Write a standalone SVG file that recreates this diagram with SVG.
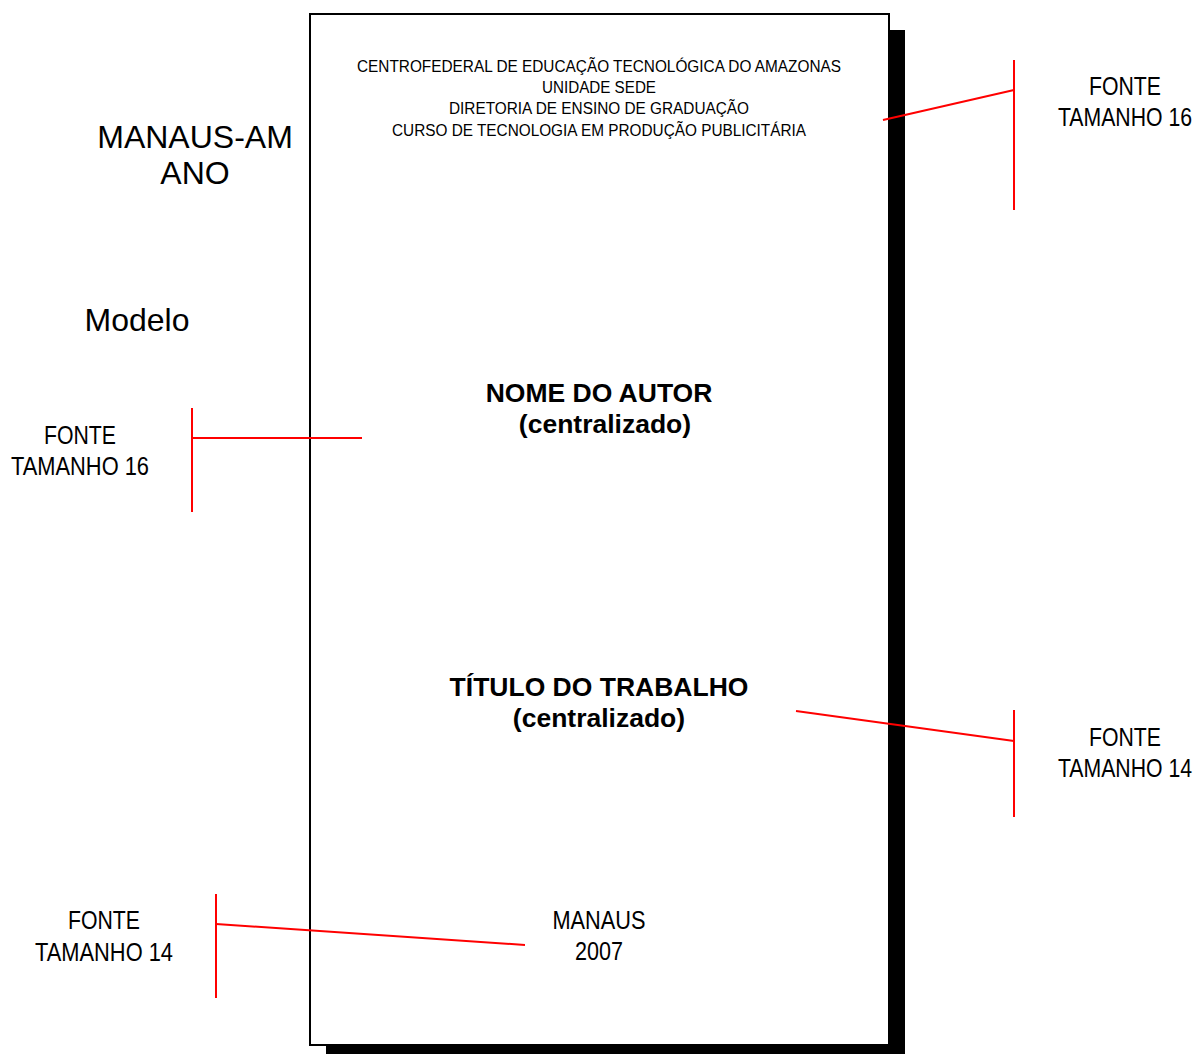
<svg xmlns="http://www.w3.org/2000/svg" width="1199" height="1054" viewBox="0 0 1199 1054">
<style>
.n{font-family:"Liberation Sans Narrow","Liberation Sans",Arial,sans-serif;fill:#000;text-anchor:middle}
.r{font-family:"Liberation Sans",Arial,sans-serif;fill:#000;text-anchor:middle;font-size:32px}
.b{font-family:"Liberation Sans",Arial,sans-serif;fill:#000;text-anchor:middle;font-size:26.5px;font-weight:bold}
.h{font-size:16px}
.f{font-size:25px}
.red{stroke:#ff0000;stroke-width:2;fill:none}
</style>
<rect width="1199" height="1054" fill="#fff"/>
<g id="page">
<rect x="326" y="30" width="579" height="1030" fill="#000"/>
<rect x="310" y="14" width="579" height="1031" fill="#fff" stroke="#000" stroke-width="2"/>
</g>
<g id="header">
<text class="n h" x="599" y="72" textLength="484" lengthAdjust="spacingAndGlyphs">CENTROFEDERAL DE EDUCAÇÃO TECNOLÓGICA DO AMAZONAS</text>
<text class="n h" x="599" y="93" textLength="114" lengthAdjust="spacingAndGlyphs">UNIDADE SEDE</text>
<text class="n h" x="599" y="114" textLength="300" lengthAdjust="spacingAndGlyphs">DIRETORIA DE ENSINO DE GRADUAÇÃO</text>
<text class="n h" x="599" y="136" textLength="414" lengthAdjust="spacingAndGlyphs">CURSO DE TECNOLOGIA EM PRODUÇÃO PUBLICITÁRIA</text>
</g>
<g id="city-year">
<text class="r" x="195" y="148">MANAUS-AM</text>
<text class="r" x="195" y="184">ANO</text>
</g>
<g id="modelo"><text class="r" x="137" y="331">Modelo</text></g>
<g id="author">
<text class="b" x="599" y="402">NOME DO AUTOR</text>
<text class="b" x="605" y="433">(centralizado)</text>
</g>
<g id="title">
<text class="b" x="599" y="696">TÍTULO DO TRABALHO</text>
<text class="b" x="599" y="727">(centralizado)</text>
</g>
<g id="place">
<text class="n f" x="599" y="929" textLength="93" lengthAdjust="spacingAndGlyphs">MANAUS</text>
<text class="n f" x="599" y="960" textLength="48" lengthAdjust="spacingAndGlyphs">2007</text>
</g>
<g id="label-top-right">
<text class="n f" x="1125" y="95" textLength="72" lengthAdjust="spacingAndGlyphs">FONTE</text>
<text class="n f" transform="translate(1125,126) scale(0.85,1)" x="0" y="0">TAMANHO 16</text>
</g>
<g id="label-left">
<text class="n f" x="80" y="444" textLength="72" lengthAdjust="spacingAndGlyphs">FONTE</text>
<text class="n f" x="80" y="475" textLength="138" lengthAdjust="spacingAndGlyphs">TAMANHO 16</text>
</g>
<g id="label-mid-right">
<text class="n f" x="1125" y="746" textLength="72" lengthAdjust="spacingAndGlyphs">FONTE</text>
<text class="n f" transform="translate(1125,777) scale(0.85,1)" x="0" y="0">TAMANHO 14</text>
</g>
<g id="label-bottom-left">
<text class="n f" x="104" y="929" textLength="72" lengthAdjust="spacingAndGlyphs">FONTE</text>
<text class="n f" x="104" y="961" textLength="138" lengthAdjust="spacingAndGlyphs">TAMANHO 14</text>
</g>
<g id="connectors" class="red">
<line x1="1014" y1="60" x2="1014" y2="210"/>
<line x1="883" y1="120" x2="1014" y2="90"/>
<line x1="192" y1="408" x2="192" y2="512"/>
<line x1="192" y1="438" x2="362" y2="438"/>
<line x1="1014" y1="710" x2="1014" y2="817"/>
<line x1="796" y1="711" x2="1014" y2="741"/>
<line x1="216" y1="894" x2="216" y2="998"/>
<line x1="216" y1="924" x2="525" y2="945"/>
</g>
</svg>
